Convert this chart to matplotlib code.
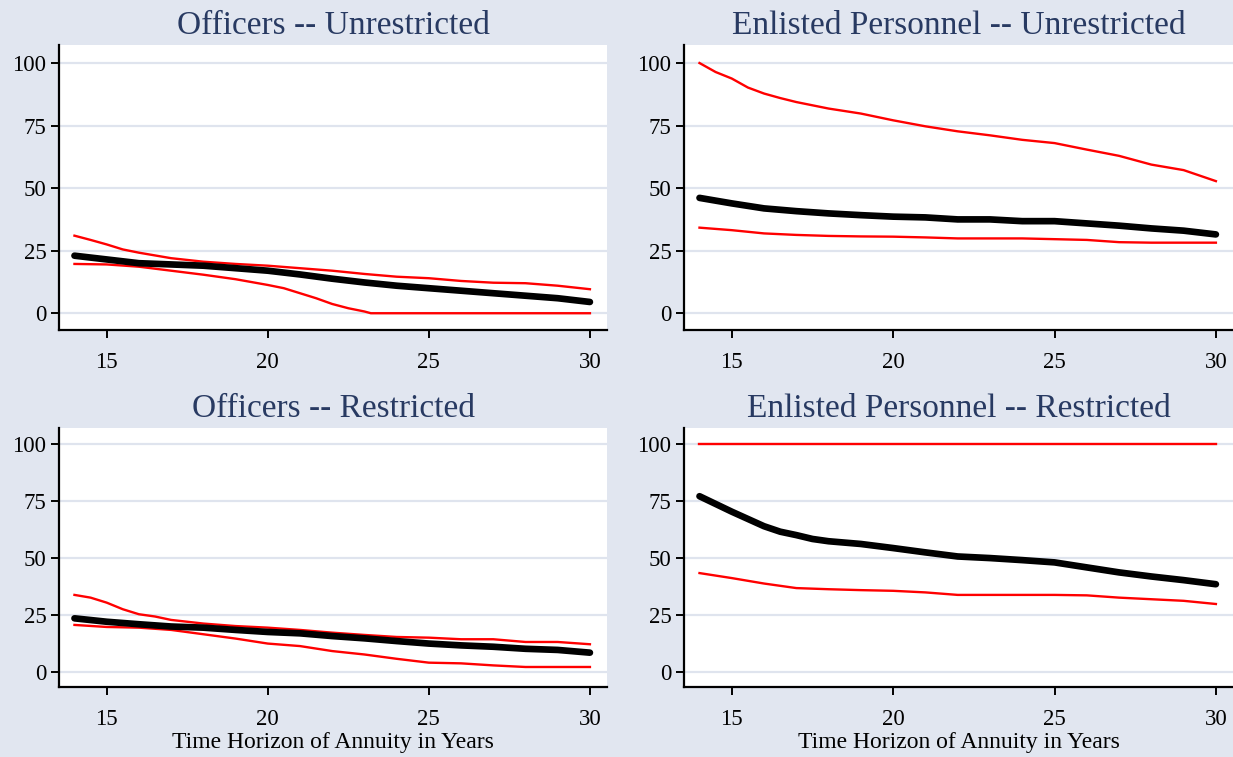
import numpy as np
import matplotlib
matplotlib.use("Agg")
import matplotlib.pyplot as plt

# annuity horizon (years) and readings
years = [14, 15, 16, 17, 18, 19, 20, 21, 22, 23, 24, 25, 26, 27, 28, 29, 30]

off_unr_est = [23, 21.5, 20, 19.5, 19, 18, 17, 15.5, 13.8, 12.3, 11, 10, 9, 8, 7, 6, 4.5]
off_unr_hi_x = [14, 14.5, 15, 15.5, 16, 17, 18, 19, 20, 21, 22, 23, 24, 25, 26, 27, 28, 29, 30]
off_unr_hi = [31, 29.3, 27.5, 25.5, 24.2, 22, 20.6, 19.7, 19, 18, 17, 15.7, 14.6, 14, 12.9, 12.2, 12, 11, 9.6]
off_unr_lo_x = [14, 15, 16, 17, 18, 19, 20, 20.5, 21, 21.5, 22, 22.5, 23, 23.2, 30]
off_unr_lo = [19.7, 19.5, 18.6, 17, 15.4, 13.6, 11.3, 10, 8, 6, 3.7, 2, 0.7, 0, 0]

enl_unr_est = [46.1, 43.9, 41.9, 40.8, 39.9, 39.2, 38.6, 38.3, 37.5, 37.5, 36.8, 36.8, 35.9, 35, 33.9, 33, 31.5]
enl_unr_hi_x = [14, 14.5, 15, 15.5, 16, 16.5, 17, 18, 19, 20, 21, 22, 23, 24, 25, 26, 27, 28, 29, 30]
enl_unr_hi = [100, 96.4, 93.8, 90.2, 87.8, 86, 84.4, 81.8, 79.8, 77.1, 74.7, 72.7, 71.1, 69.3, 68, 65.4, 62.9, 59.4, 57.2, 52.8]
enl_unr_lo = [34.2, 33.2, 31.9, 31.3, 30.9, 30.7, 30.6, 30.3, 29.9, 29.9, 29.9, 29.6, 29.3, 28.4, 28.2, 28.2, 28.2]

off_res_est = [23.5, 22, 20.9, 19.9, 19.4, 18.4, 17.5, 16.9, 15.7, 14.7, 13.5, 12.4, 11.6, 11, 10.1, 9.6, 8.4]
off_res_hi_x = [14, 14.5, 15, 15.5, 16, 16.5, 17, 18, 19, 20, 21, 22, 23, 24, 25, 26, 27, 28, 29, 30]
off_res_hi = [33.8, 32.6, 30.4, 27.5, 25.3, 24.3, 22.8, 21.2, 20.1, 19.4, 18.4, 17.2, 16.2, 15.3, 15, 14.3, 14.3, 13.1, 13.1, 12.1]
off_res_lo = [20.6, 19.7, 19.4, 18.4, 16.5, 14.6, 12.4, 11.3, 9.1, 7.6, 5.7, 4, 3.7, 2.8, 2.1, 2.1, 2.1]

enl_res_est_x = [14, 14.5, 15, 15.5, 16, 16.5, 17, 17.5, 18, 19, 20, 21, 22, 23, 24, 25, 26, 27, 28, 29, 30]
enl_res_est = [77.2, 73.8, 70.4, 67.2, 64, 61.6, 60.1, 58.4, 57.4, 56.2, 54.4, 52.5, 50.7, 50, 49.1, 48.1, 45.9, 43.7, 41.9, 40.3, 38.5]
enl_res_hi = [100] * 17
enl_res_lo = [43.4, 41.2, 38.8, 36.8, 36.3, 35.9, 35.6, 34.9, 33.8, 33.8, 33.8, 33.8, 33.6, 32.6, 31.9, 31.2, 29.8]

panels = [
    ("Officers -- Unrestricted", (years, off_unr_est), (off_unr_hi_x, off_unr_hi), (off_unr_lo_x, off_unr_lo)),
    ("Enlisted Personnel -- Unrestricted", (years, enl_unr_est), (enl_unr_hi_x, enl_unr_hi), (years, enl_unr_lo)),
    ("Officers -- Restricted", (years, off_res_est), (off_res_hi_x, off_res_hi), (years, off_res_lo)),
    ("Enlisted Personnel -- Restricted", (enl_res_est_x, enl_res_est), (years, enl_res_hi), (years, enl_res_lo)),
]

bg = "#e1e6f0"
title_col = "#283a62"
plt.rcParams["font.family"] = ["Liberation Serif", "DejaVu Serif"]

fig = plt.figure(figsize=(12.33, 7.57), dpi=100, facecolor=bg)

W, H = 1233, 757
boxes = [(59, 45, 607, 330), (684, 45, 1233, 330),
         (59, 428, 607, 687), (684, 428, 1233, 687)]

for i, (title, est, hi, lo) in enumerate(panels):
    x0, y0, x1, y1 = boxes[i]
    ax = fig.add_axes([x0 / W, 1 - y1 / H, (x1 - x0) / W, (y1 - y0) / H])
    ax.set_facecolor("white")
    for yv in [0, 25, 50, 75, 100]:
        ax.axhline(yv, color="#dfe4ee", lw=1.6, zorder=0)
    ax.plot(hi[0], hi[1], color="#ff0000", lw=1.7, zorder=2)
    ax.plot(lo[0], lo[1], color="#ff0000", lw=1.7, zorder=2)
    ax.plot(est[0], est[1], color="black", lw=4.8, solid_capstyle="round", zorder=3)

    ax.set_xlim(13.52, 30.53)
    ax.set_ylim(-6.7, 107.2)
    ax.set_xticks([15, 20, 25, 30])
    ax.set_yticks([0, 25, 50, 75, 100])
    ax.tick_params(axis="both", direction="out", length=6, width=1.4, colors="black",
                   labelsize=16.5, pad=3)
    ax.tick_params(axis="x", pad=10)
    for s in ["top", "right"]:
        ax.spines[s].set_visible(False)
    for s in ["left", "bottom"]:
        ax.spines[s].set_linewidth(1.6)
    ax.set_title(title, fontsize=24, color=title_col, pad=8)
    if i >= 2:
        ax.set_xlabel("Time Horizon of Annuity in Years", fontsize=17, labelpad=1)

fig.savefig("out.png", dpi=100, facecolor=bg)
